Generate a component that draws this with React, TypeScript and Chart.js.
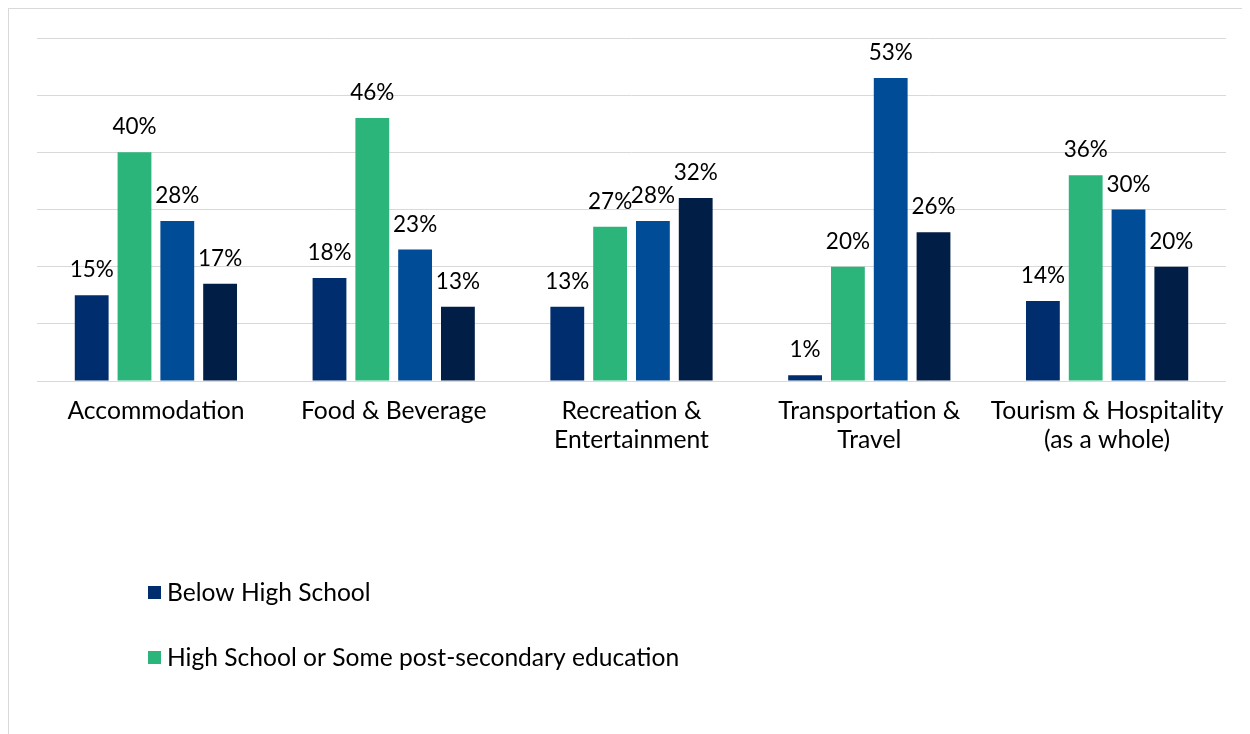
import React, { useEffect, useRef } from 'react';
import { Chart, registerables } from 'chart.js';

Chart.register(...registerables);

const categories: string[][] = [
  ['Accommodation'],
  ['Food & Beverage'],
  ['Recreation &', 'Entertainment'],
  ['Transportation &', 'Travel'],
  ['Tourism & Hospitality', '(as a whole)'],
];

const seriesNames = [
  'Below High School',
  'High School or Some post-secondary education',
  'Post-secondary certificate or diploma',
  'University degree',
];
const belowHighSchool = [15, 18, 13, 1, 14];
const highSchoolSome = [40, 46, 27, 20, 36];
const postSecondary = [28, 23, 28, 53, 30];
const university = [17, 13, 32, 26, 20];
const seriesColors = ['#002D6E', '#2BB57A', '#004C97', '#001E46'];
const legendShown = [true, true, false, false];

const Y_MIN = 0;
const Y_MAX = 60;
const Y_STEP = 10;

const FONT = 'Lato, "Open Sans", sans-serif';

const dataLabelsPlugin = {
  id: 'dataLabelsPlugin',
  afterDatasetsDraw(chart: any) {
    const ctx = chart.ctx;
    ctx.save();
    ctx.font = `22.5px ${FONT}`;
    ctx.fillStyle = '#000000';
    ctx.textAlign = 'center';
    ctx.textBaseline = 'alphabetic';
    chart.data.datasets.forEach((ds: any, i: number) => {
      const meta = chart.getDatasetMeta(i);
      meta.data.forEach((bar: any, j: number) => {
        ctx.fillText(`${ds.data[j]}%`, bar.x, bar.y - 18);
      });
    });
    ctx.restore();
  },
};

const legendPlugin = {
  id: 'verticalLegend',
  afterDraw(chart: any) {
    const ctx = chart.ctx;
    ctx.save();
    ctx.font = `24.6px ${FONT}`;
    ctx.textAlign = 'left';
    ctx.textBaseline = 'middle';
    let row = 0;
    chart.data.datasets.forEach((ds: any, i: number) => {
      if (!legendShown[i]) return;
      const cy = 584.5 + row * 65;
      ctx.fillStyle = ds.backgroundColor;
      ctx.fillRect(140, cy - 6.5, 13, 13);
      ctx.fillStyle = '#000000';
      ctx.fillText(ds.label, 159, cy + 1);
      row++;
    });
    ctx.restore();
  },
};

export default function App() {
  const canvasRef = useRef<HTMLCanvasElement | null>(null);

  useEffect(() => {
    if (!canvasRef.current) return;
    const seriesValues = [belowHighSchool, highSchoolSome, postSecondary, university];
    const chart = new Chart(canvasRef.current, {
      type: 'bar',
      data: {
        labels: categories,
        datasets: seriesValues.map((vals, i) => ({
          label: seriesNames[i],
          data: vals,
          backgroundColor: seriesColors[i],
          borderWidth: 0,
          categoryPercentage: 0.72,
          barPercentage: 0.79,
        })),
      },
      options: {
        animation: false,
        responsive: false,
        maintainAspectRatio: false,
        layout: { padding: { left: 29, right: 24, top: 30, bottom: 0 } },
        plugins: {
          legend: { display: false },
          tooltip: { enabled: false },
          title: { display: false },
        },
        scales: {
          x: {
            grid: { display: false },
            border: { display: false },
            ticks: {
              color: '#000000',
              font: { family: FONT, size: 24.7, lineHeight: 1.17 },
              padding: 8,
              maxRotation: 0,
              autoSkip: false,
            },
            afterFit: (scale: any) => {
              scale.height = 353;
            },
          },
          y: {
            min: Y_MIN,
            max: Y_MAX,
            ticks: { display: false, stepSize: Y_STEP },
            border: { display: false },
            grid: { color: '#D9D9D9', lineWidth: 1, drawTicks: false },
          },
        },
      },
      plugins: [dataLabelsPlugin, legendPlugin],
    });
    return () => chart.destroy();
  }, []);

  return (
    <div style={{ position: 'relative', width: 1242, height: 726 }}>
      <canvas ref={canvasRef} width={1242} height={726} style={{ display: 'block' }} />
      <div
        style={{
          position: 'absolute',
          left: -1,
          top: 0,
          width: 1243,
          height: 726,
          borderLeft: '2px solid #D9D9D9',
          borderTop: '1px solid #D9D9D9',
          boxSizing: 'border-box',
          pointerEvents: 'none',
        }}
      />
    </div>
  );
}
